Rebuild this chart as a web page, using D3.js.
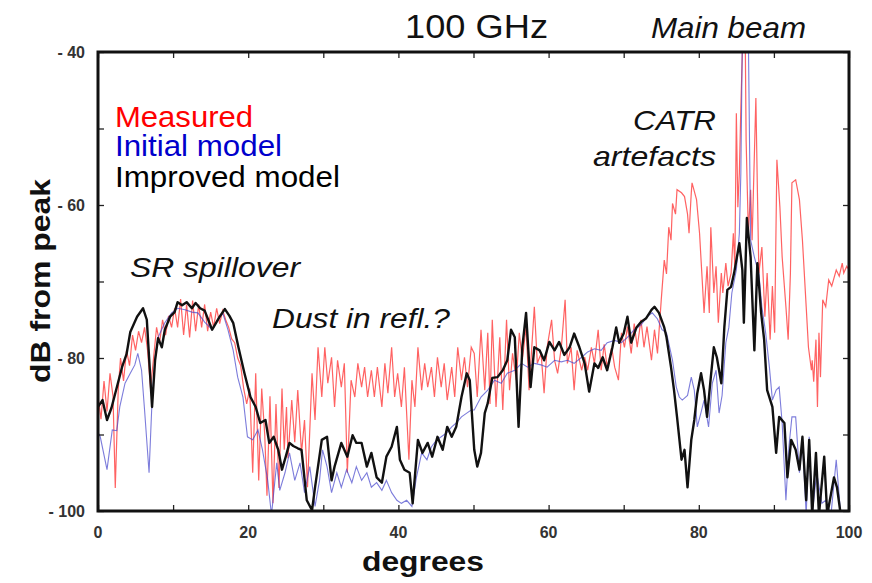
<!DOCTYPE html>
<html>
<head>
<meta charset="utf-8">
<script src="https://cdn.jsdelivr.net/npm/d3@7"></script>
<style>
  html, body { margin: 0; padding: 0; background: #ffffff; }
  svg { display: block; font-family: "Liberation Sans", Arial, Helvetica, sans-serif; }
</style>
</head>
<body>
<svg id="chart" width="872" height="583"></svg>
<script>
// ---------------- DATA ----------------
const xTickValues = [0, 20, 40, 60, 80, 100];
const xTickLabels = ["0", "20", "40", "60", "80", "100"];
const yTickValues = [-40, -60, -80, -100];
const yTickLabels = ["- 40", "- 60", "- 80", "- 100"];
const minorXTicks = [0, 10, 20, 30, 40, 50, 60, 70, 80, 90, 100];
const minorYTicks = [-40, -50, -60, -70, -80, -90, -100];

const seriesNames = ["Measured", "Initial model", "Improved model"];

// Measured (red)
const measuredX = [0,0.4,0.8,1.2,1.6,2.0,2.3,2.7,3.0,3.4,3.8,4.2,4.6,5.0,5.4,5.8,6.2,6.6,7.0,7.4,7.8,8.2,8.6,9.0,9.4,9.8,10.2,10.6,11.0,11.4,11.8,12.2,12.6,13.0,13.4,13.8,14.2,14.6,15.0,15.4,15.8,16.2,16.6,17.0,17.4,17.8,18.2,18.6,19.0,19.4,19.8,20.2,20.6,21.0,21.4,21.8,22.2,22.5,22.9,23.3,23.7,24.1,24.5,24.8,
  25.1,25.3,25.8,26.2,26.6,27.1,27.5,27.9,28.5,28.9,29.3,29.8,30.2,30.6,31.1,31.5,31.9,32.4,32.8,33.2,33.7,34.2,34.6,35.1,35.5,35.9,36.4,36.8,37.2,37.8,38.2,38.6,39.1,39.5,39.9,40.4,40.8,41.4,41.8,42.2,42.6,43.1,43.5,43.9,44.4,44.8,45.2,45.7,46.1,46.5,47.1,47.5,47.9,48.4,48.8,49.2,49.7,
  50.1,50.5,51,51.5,51.9,52.2,52.5,53,53.5,53.9,54.4,54.8,55.2,55.7,56.1,56.5,57,57.4,58.1,58.5,59,59.4,59.8,60.4,60.8,61.2,61.7,62.2,62.5,63,63.4,63.8,64.4,64.8,65.2,65.7,66.1,66.6,67,67.4,67.8,68.4,68.8,69.3,69.7,70.1,70.5,71,71.4,71.8,72.3,72.7,73.1,73.7,74.1,74.5,75,
  75.4,75.7,76,76.3,76.5,76.9,77.1,77.7,78.1,78.5,78.7,79,79.1,79.7,80.1,80.4,80.7,81.1,81.4,81.6,82,82.3,82.6,83,83.2,83.6,83.9,84.3,84.6,84.8,85.0,85.2,85.4,85.6,85.8,86,86.2,86.3,86.6,86.9,87.1,87.6,87.8,88,88.4,88.8,89.1,89.5,89.8,90.1,90.4,90.8,91.1,91.6,91.9,92.2,92.4,92.9,93.4,93.8,94.3,94.6,95,95.1,95.3,95.6,95.8,96,96.2,96.5,96.9,97.3,97.7,98.3,98.7,99.1,99.3,99.7,100];
const measuredY = [-85,-88,-83,-87,-82,-85,-97,-84,-80,-83,-79,-81,-77,-79,-76.5,-78,-76,-79,-84,-80,-76,-78,-75,-77,-74.5,-76,-73.5,-76,-72.3,-77,-73,-77.3,-72.5,-76.5,-73,-76,-73,-76.5,-74,-76,-73.5,-75.5,-73.8,-75,-76,-77.5,-78,-80,-81,-84,-86,-84,-95,-82,-96,-84,-90,-98,-85,-99,-86,-97,-84,-92,
  -86.4,-93.1,-85.5,-91,-84.2,-92.4,-88.1,-96.9,-82,-88.1,-78.6,-85.1,-78.6,-83.3,-79.9,-86.4,-80.3,-83.8,-80.7,-95,-82.9,-85.1,-80.7,-83.8,-81.2,-85.1,-81.6,-85.1,-81.2,-86.4,-80.7,-84.6,-78.6,-85.1,-82,-86.4,-81.2,-93.3,-82.9,-86.4,-78.6,-84.2,-80.7,-83.8,-81.2,-85.1,-79.9,-83.8,-80.7,-85.5,-81.2,-85.1,-78.6,-82.9,-79.9,-83.8,-78.6,
  -79.4,-85.1,-76.3,-84.2,-76.7,-86,-75,-86.4,-77.3,-86.8,-75,-84.2,-79.4,-82.9,-76.7,-80.3,-75.9,-84.2,-73.3,-80.7,-79.4,-84.6,-78.6,-75,-80.3,-82,-78.6,-72.4,-80.7,-78.6,-84.2,-79,-81.6,-79.9,-81.6,-78.6,-80.7,-76.3,-81.6,-78.2,-81.2,-78.6,-81.2,-82.9,-76.7,-78.6,-75.9,-79.4,-75.5,-78.6,-75,-78.6,-75.9,-80.3,-76.3,-79.4,-72.4,
  -67.2,-69,-62.9,-64.6,-59.8,-61.2,-58,-58.4,-58.9,-61.2,-63.7,-58.4,-57.1,-59.3,-63.7,-68.9,-74.1,-68,-74.1,-62.9,-71.5,-68,-75.4,-68.9,-71.5,-67.6,-70.6,-68.9,-63.7,-68,-48,-60.3,-55.8,-47.2,-40,-36,-40,-51.5,-63.7,-58,-64.6,-46,-58,-68.9,-65.5,-74.6,-68.9,-77.6,-70.6,-76.7,-54.1,-60.3,-66.8,-73.3,-77.6,-68.9,-57.1,-56.7,-59.3,-64.6,-73.3,-78.6,-81.6,-80.3,-83.1,-77.6,-86.4,-76.7,-82.5,-72.4,-73.3,-69.8,-70.6,-68.5,-69.3,-67.6,-68.9,-68,-68.5];

// Initial model (blue)
const initialX = [0,0.3,1.2,1.9,2.5,2.9,3.6,4.3,4.9,5.3,5.8,6.2,6.8,7.2,7.6,8,8.9,9.8,10.6,11.6,12.5,13.3,14.2,15.2,16,16.6,17.3,18,18.6,19.3,19.9,20.6,21.3,21.9,22.6,23.1,23.8,24.2,24.9,25.5,26.2,26.9,27.5,28.2,28.9,29.5,29.9,30.5,31.1,31.8,32.4,33.1,33.8,34.4,35.1,35.8,36.4,37.1,37.8,38.4,39.1,39.8,40.4,41.1,41.8,42.4,43.1,43.8,44.4,45.1,45.7,46.4,47.1,47.7,48.4,49.1,49.7,50.1,51,51.9,52.8,53.7,54.5,55.5,56.4,57.2,58.1,59,59.8,60.8,61.7,62.5,63.4,64.4,65.2,66.1,67,67.8,68.8,69.7,70.5,71.4,72.3,73.1,73.8,74.5,75.1,75.7,76.5,77,77.4,77.8,78.5,79,79.4,79.8,80.3,80.7,81.3,81.8,82.3,82.7,83.1,83.6,84,84.4,85,85.4,85.6,85.8,86.6,86.9,87.4,88,88.4,88.9,89.4,89.8,90.3,90.7,91.1,91.6,92,92.4,92.9,93.4,93.8,94.3,94.7,95.1,95.7,96.4,96.9,97.6,98.3,98.9];
const initialY = [-89.7,-90.3,-94.6,-89.4,-89.5,-86.4,-83.3,-82,-80.9,-79.4,-81.6,-86.8,-95,-85.5,-79.9,-77.3,-75.4,-74.1,-73.5,-73.7,-74,-74.1,-75.3,-76.3,-75,-74.1,-76.3,-79,-82.5,-85.1,-90.3,-90.7,-89.4,-92,-96,-100.5,-93.7,-97.3,-95,-92.4,-96,-93.7,-97.6,-94.2,-99.4,-96,-92,-94.2,-97.6,-95,-96.9,-94.6,-96.3,-94.2,-96,-95,-96.9,-96.3,-97.3,-96,-97.6,-98.6,-99,-98.6,-99.4,-95.6,-92.4,-93.3,-91.6,-90.7,-90.3,-89.8,-89,-88.5,-87.7,-87.2,-86.8,-86.8,-85.1,-84.2,-82.9,-83.3,-82,-81.6,-80.7,-81.2,-80.7,-80.9,-81.2,-80.3,-80.5,-80.3,-80.7,-79.9,-79.2,-78.8,-79,-78,-77.7,-78,-77.3,-76.3,-75.7,-74.6,-74.1,-74.9,-76.3,-76.7,-80.3,-83.8,-85.1,-85.5,-84.9,-82.5,-84.2,-89,-87.1,-85.5,-89,-83.3,-81.6,-87.2,-84.9,-78,-76,-71.5,-68.5,-63.7,-55.8,-38,-38,-64.6,-66.8,-69,-73.3,-76.7,-81.2,-85.5,-84.2,-83.8,-88.5,-98.6,-91.6,-87.7,-87.7,-95,-90.7,-100.5,-90.3,-100.5,-95,-99,-98.6,-100.5,-93.3,-100.5];

// Improved model (black)
const improvedX = [0,0.6,1.2,1.8,2.3,3.2,3.8,4.3,5.2,6.0,6.5,7.2,7.6,8.0,8.5,8.9,9.6,10.2,10.6,11.2,11.8,12.5,13,13.6,14.2,15.2,16.2,16.9,17.5,18,18.7,19.5,20.3,21,21.6,22.3,22.8,23.4,24,24.5,25,25.5,26.0,26.6,27.1,27.8,28.5,28.9,29.8,30.5,31.1,31.5,32.4,33.2,33.9,34.4,35.1,35.8,36.4,37.1,37.8,38.4,39.1,39.8,40.2,40.8,41.5,41.9,42.6,43.2,43.9,44.5,45.2,45.9,46.5,47.1,47.7,48.4,49.1,49.5,50.1,50.5,51,51.5,51.9,52.5,53.2,53.9,54.5,55,55.5,56,56.5,57,57.6,58.1,58.8,59.4,60.1,60.8,61.4,62.1,62.8,63.4,64.1,64.8,65.4,66.1,66.6,67.2,67.8,68.5,69,69.4,70,70.5,71,71.7,72.3,73,73.7,74.1,74.7,75.4,75.7,76.3,76.7,77.1,77.7,78.1,78.5,79,79.4,79.8,80.3,80.7,81.1,81.6,82,82.4,83,83.4,83.8,84.3,84.7,85.4,85.8,86,86.4,86.9,87.4,87.8,88.3,88.7,89.1,89.8,90.3,90.7,91.4,91.8,92.3,92.9,93.4,93.8,94.3,94.7,95.1,95.6,96,96.7,97.1,98,98.4,98.9];
const improvedY = [-86.4,-85.5,-88.1,-86.5,-84.6,-81.2,-79.5,-76.6,-74.6,-73.5,-75,-86.4,-80.3,-77.4,-78.6,-76.3,-74.6,-74,-72.7,-73.1,-72.7,-73.5,-72.8,-73.5,-73.8,-76.3,-74.6,-73.6,-74.5,-75.4,-78.6,-82,-85.1,-86.4,-88.5,-88.1,-91.1,-90.3,-92,-94.6,-92.9,-91.1,-91.5,-91.8,-92,-98.6,-99.9,-96.9,-90.7,-90.3,-96,-94.2,-91.1,-92.9,-90.1,-91.1,-91.1,-94.2,-92.4,-95.6,-96.3,-92.9,-91.6,-89,-93.3,-94.6,-95,-99,-90.7,-92.4,-91.1,-92.9,-90.3,-92,-89,-90.3,-89,-85.1,-82,-82.9,-92,-94.2,-92.4,-87.2,-85.9,-82.6,-82.5,-81.6,-80.3,-76.3,-77.3,-89,-78.6,-74.1,-83.8,-78.6,-79,-80.3,-77.9,-79,-77.9,-79.6,-78.6,-76.8,-78.6,-80.7,-84.4,-80.7,-81.3,-79.9,-81.6,-78.6,-76,-78,-76.8,-74.6,-78,-76,-75.3,-74.8,-73.7,-73.3,-74.1,-76,-77.3,-81.2,-84.2,-87.7,-93.3,-92,-96.9,-90.7,-88.1,-84.6,-82,-84.2,-87.7,-82.5,-78.6,-79.9,-83.3,-76,-71.1,-70.7,-68.9,-65,-68.5,-75.4,-61.7,-66.8,-79,-67.6,-74.1,-77.6,-84.2,-86.4,-92.4,-87.7,-88.5,-95.6,-90.7,-92,-94.6,-90.3,-98.6,-90.7,-100.5,-92.4,-100.5,-92.9,-100.5,-95.6,-96.9,-100.5];

// ---------------- CHART ----------------
const svg = d3.select("#chart");
const pLeft = 98, pRight = 849, pTop = 52, pBottom = 511;

const x = d3.scaleLinear().domain([0, 100]).range([pLeft, pRight]);
const y = d3.scaleLinear().domain([-100, -40]).range([pBottom, pTop]);

svg.append("defs").append("clipPath").attr("id", "plotClip")
  .append("rect").attr("x", pLeft).attr("y", pTop)
  .attr("width", pRight - pLeft).attr("height", pBottom - pTop);

const plot = svg.append("g").attr("clip-path", "url(#plotClip)");

function series(xs, ys) { return xs.map((d, i) => [d, ys[i]]); }
const line = d3.line().x(d => x(d[0])).y(d => y(d[1]));

plot.append("path").datum(series(measuredX, measuredY))
  .attr("d", line).attr("fill", "none")
  .attr("stroke", "#ff2020").attr("stroke-opacity", 0.7).attr("stroke-width", 1.2);

plot.append("path").datum(series(initialX, initialY))
  .attr("d", line).attr("fill", "none")
  .attr("stroke", "#4444cc").attr("stroke-opacity", 0.7).attr("stroke-width", 1.1);

plot.append("path").datum(series(improvedX, improvedY))
  .attr("d", line).attr("fill", "none")
  .attr("stroke", "#111111").attr("stroke-width", 2.4).attr("stroke-linejoin", "round");

// Axes (ticks inward)
const tickLen = 6;
const axB = svg.append("g").attr("transform", `translate(0,${pBottom})`)
  .call(d3.axisBottom(x).tickValues(minorXTicks).tickSize(-tickLen).tickFormat(""));
const axT = svg.append("g").attr("transform", `translate(0,${pTop})`)
  .call(d3.axisTop(x).tickValues(minorXTicks).tickSize(-tickLen).tickFormat(""));
const axL = svg.append("g").attr("transform", `translate(${pLeft},0)`)
  .call(d3.axisLeft(y).tickValues(minorYTicks).tickSize(-tickLen).tickFormat(""));
const axR = svg.append("g").attr("transform", `translate(${pRight},0)`)
  .call(d3.axisRight(y).tickValues(minorYTicks).tickSize(-tickLen).tickFormat(""));
[axB, axT, axL, axR].forEach(a => {
  a.select(".domain").remove();
  a.selectAll(".tick line").attr("stroke", "#222").attr("stroke-width", 1.3);
});

// Frame
svg.append("rect").attr("x", pLeft).attr("y", pTop)
  .attr("width", pRight - pLeft).attr("height", pBottom - pTop)
  .attr("fill", "none").attr("stroke", "#111").attr("stroke-width", 3);

// Tick labels
svg.append("g").selectAll("text").data(xTickValues).join("text")
  .attr("x", d => x(d)).attr("y", 538)
  .attr("text-anchor", "middle").attr("font-size", 16).attr("font-weight", "bold")
  .attr("fill", "#333")
  .text((d, i) => xTickLabels[i]);

svg.append("g").selectAll("text").data(yTickValues).join("text")
  .attr("x", 85).attr("y", d => y(d) + 6)
  .attr("text-anchor", "end").attr("font-size", 16).attr("font-weight", "bold")
  .attr("fill", "#333")
  .text((d, i) => yTickLabels[i]);

// helper: text with fixed extent
function label(txt, xPos, yPos, size, len, opts = {}) {
  const t = svg.append("text").attr("x", xPos).attr("y", yPos)
    .attr("font-size", size)
    .attr("textLength", len).attr("lengthAdjust", "spacingAndGlyphs")
    .attr("text-anchor", opts.anchor || "start")
    .attr("fill", opts.fill || "#111")
    .text(txt);
  if (opts.italic) t.attr("font-style", "italic");
  if (opts.bold) t.attr("font-weight", "bold");
  if (opts.transform) t.attr("transform", opts.transform);
  return t;
}

// Axis titles
label("degrees", 362, 571, 28, 122, { bold: true });
label("dB from peak", 0, 0, 28, 204, { bold: true, anchor: "middle", transform: "translate(50,281) rotate(-90)" });

// Title & annotations
label("100 GHz", 405, 38, 33, 143);
label("Main beam", 651, 38, 29, 155, { italic: true });
label("CATR", 633, 130, 28, 83, { italic: true });
label("artefacts", 593, 166, 28, 123, { italic: true });
label("SR spillover", 130, 277, 28, 170, { italic: true });
label("Dust in refl.?", 272, 328, 28, 178, { italic: true });

// Legend
const legendColors = ["#ff0000", "#0000cc", "#000000"];
const legendY = [127, 156, 187];
const legendLen = [138, 167, 225];
seriesNames.forEach((name, i) => {
  label(name, 115, legendY[i], 29, legendLen[i], { fill: legendColors[i] });
});
</script>
</body>
</html>
